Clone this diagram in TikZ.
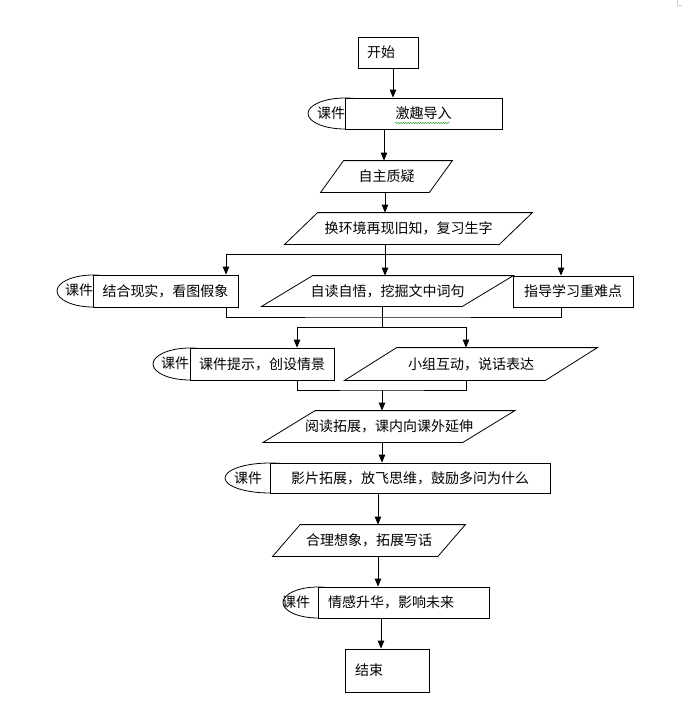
\documentclass[tikz,border=0pt]{standalone}
\usepackage{fontspec}
\newfontfamily\cjk{Noto Sans CJK SC}
\usepackage{tikz}
\usetikzlibrary{arrows.meta, positioning, decorations.pathmorphing}

\begin{document}
\begin{tikzpicture}[
    ->, >={Triangle[length=8pt, width=6.5pt]}, x=1pt, y=-1pt,
    line width=0.8pt,
    font=\cjk\fontsize{14}{16}\selectfont,
    stepbox/.style={rectangle, draw, fill=white, inner sep=0pt},
    para/.style={rectangle, inner sep=0pt},
    tag/.style={inner sep=0pt}
]
\useasboundingbox (0,0) rectangle (682,716);

\draw[-] (345,113.5) ellipse [x radius=37pt, y radius=15.5pt];
\draw[-] (93,291) ellipse [x radius=36pt, y radius=16pt];
\draw[-] (190,364) ellipse [x radius=37pt, y radius=16pt];
\draw[-] (270,478) ellipse [x radius=45pt, y radius=15pt];
\draw[-] (318,602.5) ellipse [x radius=35pt, y radius=15.5pt];

\node[stepbox, minimum width=60pt, minimum height=31pt, text width=42pt, inner xsep=9pt, align=left] (start) at (388,52.5) {开始};
\node[stepbox, minimum width=157pt, minimum height=31pt] (intro) at (423.5,113.5) {激趣导入};
\node[para, minimum width=108pt, minimum height=31pt] (ask) at (386.5,176.5) {自主质疑};
\node[para, minimum width=214pt, minimum height=31pt] (review) at (408.5,228.5) {换环境再现旧知，复习生字};
\node[stepbox, minimum width=145pt, minimum height=32pt] (combine) at (165.5,291) {结合现实，看图假象};
\node[para, minimum width=200pt, minimum height=30pt] (selfread) at (387.5,291) {自读自悟，挖掘文中词句};
\node[stepbox, minimum width=120pt, minimum height=31pt] (guide) at (573,291.5) {指导学习重难点};
\node[stepbox, minimum width=144pt, minimum height=32pt] (hint) at (262,364) {课件提示，创设情景};
\node[para, minimum width=200pt, minimum height=32pt] (group) at (471,364) {小组互动，说话表达};
\node[para, minimum width=199pt, minimum height=31pt] (extend) at (389,426.5) {阅读拓展，课内向课外延伸};
\node[stepbox, minimum width=280pt, minimum height=30pt] (film) at (410,478) {影片拓展，放飞思维，鼓励多问为什么};
\node[para, minimum width=164.5pt, minimum height=31pt] (write) at (369,540.5) {合理想象，拓展写话};
\node[stepbox, minimum width=171pt, minimum height=31pt, text width=151pt, inner xsep=10pt, align=left] (feel) at (403.5,602.5) {情感升华，影响未来};
\node[stepbox, minimum width=84pt, minimum height=43pt, text width=64pt, inner xsep=10pt, align=left] (finish) at (387,670.5) {结束};

\node[tag] (tag1) at (331,113) {课件};
\node[tag] (tag2) at (79,290) {课件};
\node[tag] (tag3) at (175,363) {课件};
\node[tag] (tag4) at (248,478) {课件};
\node[tag] (tag5) at (296,602) {课件};

\foreach \n/\s in {ask/23, review/33, selfread/51, group/52, extend/52, write/27.5}
  \draw[-] ([xshift=-\s/2]\n.south west) -- ([xshift=\s/2]\n.north west) -- ([xshift=\s/2]\n.north east) -- ([xshift=-\s/2]\n.south east) -- cycle;

\draw[-, green!55!black, line width=0.4pt, decorate, decoration={snake, amplitude=0.6pt, segment length=2.5pt}]
  ([xshift=-28.5pt, yshift=-9.5pt]intro.center) -- ([xshift=26.5pt, yshift=-9.5pt]intro.center);

\coordinate (split1) at (385,254);
\coordinate (join1) at (382,317);
\coordinate (split2) at (382,327);
\coordinate (join2) at (382,390);

\draw ([xshift=5]start.south) -- ([xshift=5]start.south |- intro.north);
\draw ([xshift=-39.5]intro.south) -- ([xshift=-39.5]intro.south |- ask.north);
\draw ([xshift=-1.5]ask.south) -- ([xshift=-1.5]ask.south |- review.north);
\draw ([xshift=-23.5]review.south) -- ([xshift=-23.5]review.south |- selfread.north);
\draw (split1) -| ([xshift=60.5]combine.north);
\draw (split1) -| ([xshift=-12]guide.north);
\draw[-] ([xshift=60.5]combine.south) |- (join1) -| ([xshift=-12]guide.south);
\draw[-] ([xshift=-5.5]selfread.south) -- (split2);
\draw (split2) -| ([xshift=35]hint.north);
\draw (split2) -| ([xshift=-5]group.north);
\draw[-] ([xshift=35]hint.south) |- (join2) -| ([xshift=-5]group.south);
\draw (join2) -- (join2 |- extend.north);
\draw ([xshift=-7]extend.south) -- ([xshift=-7]extend.south |- film.north);
\draw ([xshift=-32]film.south) -- ([xshift=-32]film.south |- write.north);
\draw ([xshift=9]write.south) -- ([xshift=9]write.south |- feel.north);
\draw ([xshift=-22.5]feel.south) -- ([xshift=-22.5]feel.south |- finish.north);

\draw[-, gray!40, line width=0.6pt] (677,0) |- (682,5);
\end{tikzpicture}
\end{document}
